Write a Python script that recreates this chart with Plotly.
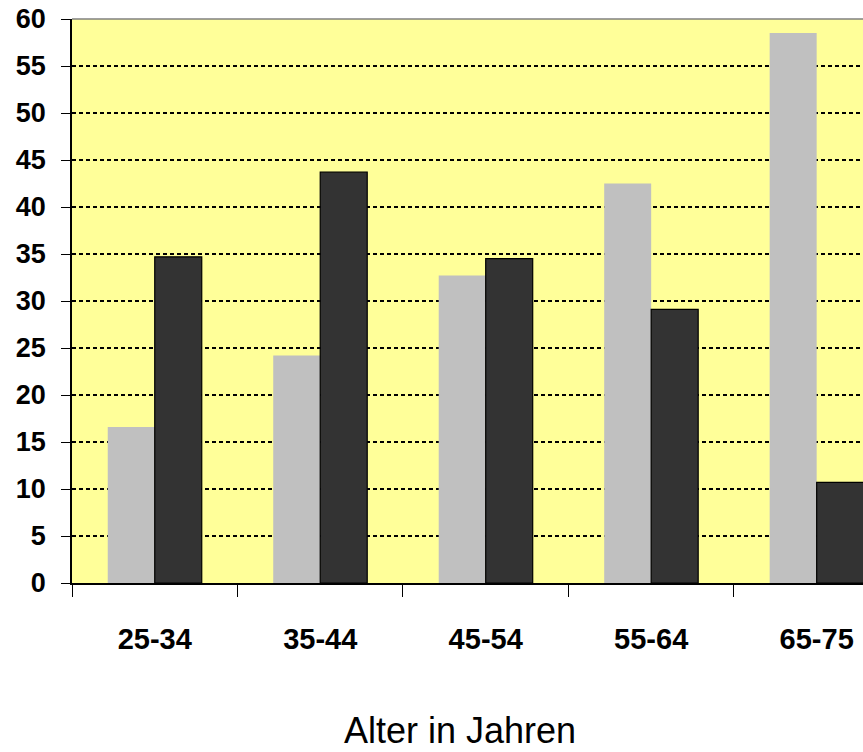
import plotly.graph_objects as go

categories = ["25-34", "35-44", "45-54", "55-64", "65-75"]
series_light = [16.6, 24.2, 32.7, 42.5, 58.5]
series_dark = [34.7, 43.7, 34.5, 29.1, 10.7]
y_ticks = list(range(0, 61, 5))

fig = go.Figure()
fig.add_trace(go.Bar(x=categories, y=series_light, marker=dict(color="#C0C0C0", line=dict(width=0)),
                     showlegend=False))
fig.add_trace(go.Bar(x=categories, y=series_dark, marker=dict(color="#333333", line=dict(color="#000000", width=1.2)),
                     showlegend=False))

fig.update_layout(
    width=863, height=752,
    margin=dict(l=72, r=0, t=19, b=169),
    paper_bgcolor="white", plot_bgcolor="#FFFF99",
    barmode="group", bargap=0.432, bargroupgap=0,
    font=dict(family="Liberation Sans, Arial", color="black"),
)
fig.update_xaxes(
    type="category", range=[-0.5, 4.28],
    showline=True, linecolor="black", linewidth=1.5,
    ticks="outside", tickson="boundaries", ticklen=12, tickcolor="black", tickwidth=1,
    tickfont=dict(family="Liberation Sans, Arial", size=29, color="black", weight="bold"),
    ticklabelstandoff=29, showgrid=False,
)
fig.update_yaxes(
    range=[0, 60], tickvals=y_ticks,
    showline=True, linecolor="black", linewidth=1.5,
    ticks="outside", ticklen=9, tickcolor="black", tickwidth=1,
    tickfont=dict(family="Liberation Sans, Arial", size=27, color="black", weight="bold"),
    ticklabelstandoff=10,
    showgrid=True, gridcolor="black", gridwidth=2, griddash="4px,3px", zeroline=False,
)
fig.add_shape(type="line", xref="paper", yref="paper", x0=0, x1=1, y0=1, y1=1,
              line=dict(color="#808080", width=1.5))
fig.add_annotation(text="Alter in Jahren", xref="paper", yref="paper", x=(460-72)/791, y=-0.262,
                   showarrow=False, xanchor="center", yanchor="middle",
                   font=dict(family="Liberation Sans, Arial", size=36, color="black"))

fig.write_html("out.html", config={"displayModeBar": False},
               post_script="document.body.style.margin='0';document.body.style.overflow='hidden';")
